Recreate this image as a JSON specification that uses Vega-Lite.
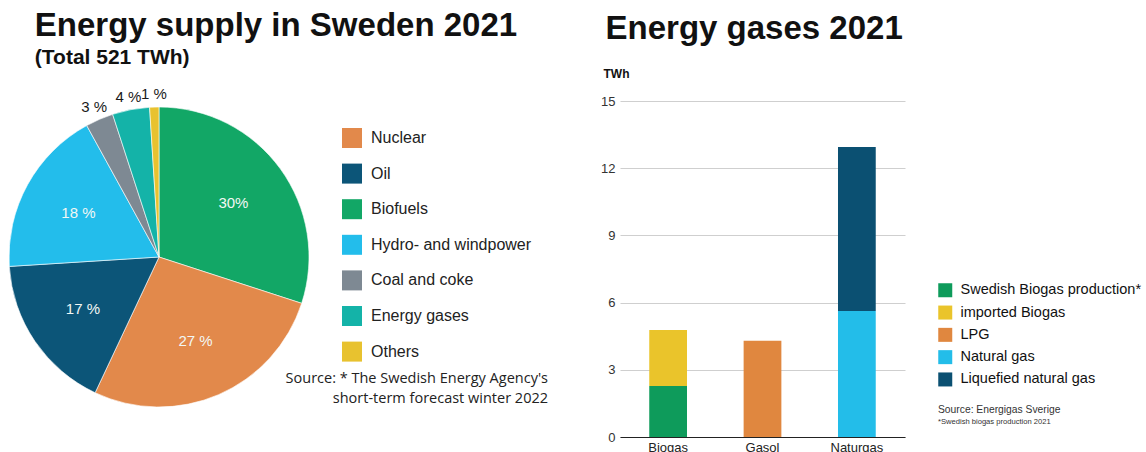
{
  "$schema": "https://vega.github.io/schema/vega-lite/v6.json",
  "background": "white",
  "padding": {"left": 7, "top": 10, "right": 0, "bottom": 0},
  "spacing": 52,
  "resolve": {"scale": {"color": "independent"}, "legend": {"color": "independent"}},
  "config": {
    "view": {"stroke": null},
    "font": "Liberation Sans",
    "title": {"font": "Liberation Sans", "fontWeight": "bold", "color": "#111"}
  },
  "hconcat": [
    {
      "title": {
        "text": "Energy supply in Sweden 2021",
        "subtitle": "(Total 521 TWh)",
        "anchor": "start",
        "frame": "bounds",
        "fontSize": 33,
        "subtitleFont": "Liberation Sans",
        "subtitleFontSize": 21,
        "subtitleFontWeight": "bold",
        "subtitleColor": "#111",
        "subtitlePadding": 4,
        "dx": 27,
        "offset": 19
      },
      "hconcat": [
        {
          "title": {
            "text": ["Source: * The Swedish Energy Agency's", "short-term forecast winter 2022"],
            "orient": "bottom",
            "anchor": "end",
            "frame": "group",
            "align": "right",
            "font": "Open Sans",
            "fontSize": 14.5,
            "fontWeight": "normal",
            "color": "#222",
            "lineHeight": 20,
            "dx": 239,
            "dy": -47
          },
          "width": 300,
          "height": 312,
          "data": {
            "values": [
              {"source": "Biofuels", "share": 30, "label": "30%", "seq": 1},
              {"source": "Nuclear", "share": 27, "label": "27 %", "seq": 2},
              {"source": "Oil", "share": 17, "label": "17 %", "seq": 3},
              {"source": "Hydro- and windpower", "share": 18, "label": "18 %", "seq": 4},
              {"source": "Coal and coke", "share": 3, "label": "3 %", "seq": 5},
              {"source": "Energy gases", "share": 4, "label": "4 %", "seq": 6},
              {"source": "Others", "share": 1, "label": "1 %", "seq": 7}
            ]
          },
          "encoding": {
            "theta": {"field": "share", "type": "quantitative", "stack": true},
            "order": {"field": "seq", "type": "quantitative"}
          },
          "layer": [
            {
              "mark": {"type": "arc", "radius": 150, "stroke": "white", "strokeWidth": 0.6},
              "encoding": {
                "color": {
                  "field": "source",
                  "type": "nominal",
                  "scale": {
                    "domain": ["Nuclear", "Oil", "Biofuels", "Hydro- and windpower", "Coal and coke", "Energy gases", "Others"],
                    "range": ["#e2894b", "#0c5578", "#12a766", "#23bdeb", "#7e8993", "#14b3a8", "#e8c22f"]
                  },
                  "legend": {
                    "title": null,
                    "orient": "none",
                    "legendX": 333,
                    "legendY": 27,
                    "symbolType": "square",
                    "symbolSize": 400,
                    "symbolStrokeWidth": 0,
                    "labelFont": "Liberation Sans",
                    "labelFontSize": 16,
                    "labelColor": "#222",
                    "labelOffset": 9,
                    "labelLimit": 300,
                    "rowPadding": 15.6
                  }
                }
              }
            },
            {
              "mark": {"type": "text", "radius": 92, "fontSize": 15, "font": "Liberation Sans"},
              "encoding": {
                "text": {"condition": {"test": "datum.share >= 10", "field": "label"}, "value": ""},
                "color": {"value": "#f2f7f4"}
              }
            },
            {
              "mark": {"type": "text", "radius": 163, "fontSize": 15, "font": "Liberation Sans"},
              "encoding": {
                "text": {"condition": {"test": "datum.share < 10", "field": "label"}, "value": ""},
                "color": {"value": "#1a1a1a"}
              }
            }
          ]
        }
      ]
    },
    {
      "title": {
        "text": "Energy gases 2021",
        "anchor": "start",
        "frame": "bounds",
        "fontSize": 33,
        "dx": 5,
        "offset": 21
      },
      "hconcat": [
        {
          "title": {
            "text": "Source: Energigas Sverige",
            "subtitle": "*Swedish biogas production 2021",
            "orient": "bottom",
            "anchor": "start",
            "frame": "group",
            "font": "Liberation Sans",
            "fontSize": 10.3,
            "fontWeight": "normal",
            "color": "#333",
            "subtitleFont": "Liberation Sans",
            "subtitleFontSize": 7.6,
            "subtitleColor": "#333",
            "subtitlePadding": 3,
            "dx": 318,
            "dy": -53
          },
          "width": 285,
          "height": 336,
          "data": {
            "values": [
              {"gas": "Biogas", "type": "Swedish Biogas production*", "twh": 2.28, "seq": 1},
              {"gas": "Biogas", "type": "imported Biogas", "twh": 2.5, "seq": 2},
              {"gas": "Gasol", "type": "LPG", "twh": 4.3, "seq": 3},
              {"gas": "Naturgas", "type": "Natural gas", "twh": 5.63, "seq": 4},
              {"gas": "Naturgas", "type": "Liquefied natural gas", "twh": 7.32, "seq": 5}
            ]
          },
          "mark": {"type": "bar"},
          "encoding": {
            "x": {
              "field": "gas",
              "type": "nominal",
              "sort": null,
              "scale": {"paddingInner": 0.6, "paddingOuter": 0.31},
              "axis": {
                "title": null,
                "labelAngle": 0,
                "ticks": false,
                "domain": true,
                "domainColor": "#222",
                "domainWidth": 1.2,
                "labelFontSize": 13,
                "labelColor": "#222",
                "labelPadding": 4
              }
            },
            "y": {
              "field": "twh",
              "type": "quantitative",
              "stack": true,
              "scale": {"domain": [0, 15]},
              "axis": {
                "values": [0, 3, 6, 9, 12, 15],
                "title": "TWh",
                "titleAngle": 0,
                "titleAlign": "left",
                "titleBaseline": "alphabetic",
                "titleX": -17,
                "titleY": -24,
                "titleFontSize": 12,
                "titleFontWeight": "bold",
                "titleColor": "#111",
                "domain": false,
                "ticks": false,
                "grid": true,
                "gridColor": "#cfcfcf",
                "labelFontSize": 13,
                "labelColor": "#333",
                "labelPadding": 5
              }
            },
            "color": {
              "field": "type",
              "type": "nominal",
              "scale": {
                "domain": ["Swedish Biogas production*", "imported Biogas", "LPG", "Natural gas", "Liquefied natural gas"],
                "range": ["#0e9b5b", "#eac42b", "#e0873f", "#23bde9", "#0b5072"]
              },
              "legend": {
                "title": null,
                "orient": "none",
                "legendX": 318,
                "legendY": 182,
                "symbolType": "square",
                "symbolSize": 196,
                "symbolStrokeWidth": 0,
                "labelFont": "Liberation Sans",
                "labelFontSize": 14.5,
                "labelColor": "#111",
                "labelOffset": 8,
                "labelLimit": 300,
                "rowPadding": 6.3
              }
            },
            "order": {"field": "seq", "type": "quantitative"}
          }
        }
      ]
    }
  ]
}
